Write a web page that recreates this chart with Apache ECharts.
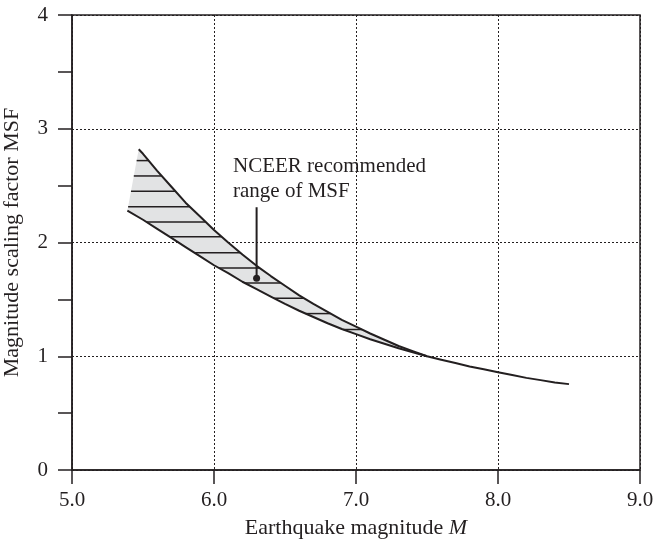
<!DOCTYPE html>
<html>
<head>
<meta charset="utf-8">
<script src="https://cdn.jsdelivr.net/npm/echarts@6/dist/echarts.min.js"></script>
<style>
html,body{margin:0;padding:0;background:#fff;}
#c{width:654px;height:545px;}
</style>
</head>
<body>
<div id="c"></div>
<script>
// ---- data ----
const upperM   = [5.47, 5.5, 5.6, 5.7, 5.8, 5.9, 6.0, 6.1, 6.2, 6.3, 6.4, 6.5, 6.6, 6.7, 6.8, 6.9, 7.0, 7.1, 7.2, 7.3, 7.4, 7.5];
const upperMSF = [2.82, 2.78, 2.63, 2.49, 2.35, 2.23, 2.11, 2.00, 1.895, 1.795, 1.705, 1.62, 1.535, 1.46, 1.39, 1.32, 1.26, 1.20, 1.145, 1.09, 1.045, 1.0];
const lowerM   = [5.39, 5.5, 5.6, 5.7, 5.8, 5.9, 6.0, 6.1, 6.2, 6.3, 6.4, 6.5, 6.6, 6.7, 6.8, 6.9, 7.0, 7.1, 7.2, 7.3, 7.4, 7.5, 7.6, 7.7, 7.8, 7.9, 8.0, 8.1, 8.2, 8.3, 8.4, 8.5];
const lowerMSF = [2.28, 2.20, 2.12, 2.04, 1.96, 1.88, 1.80, 1.73, 1.655, 1.59, 1.525, 1.46, 1.40, 1.345, 1.29, 1.24, 1.195, 1.15, 1.11, 1.07, 1.035, 1.0, 0.97, 0.94, 0.91, 0.885, 0.86, 0.835, 0.81, 0.79, 0.77, 0.755];
const hatchLevels = [2.72, 2.585, 2.45, 2.315, 2.18, 2.05, 1.91, 1.775, 1.645, 1.51, 1.375, 1.235];
const xTicks = [5.0, 6.0, 7.0, 8.0, 9.0];
const yTicks = [0, 1, 2, 3, 4];
const annotDot = [6.3, 1.685];
const annotTop = 2.31;
const annotText = ['NCEER recommended', 'range of MSF'];
const xTitle = 'Earthquake magnitude ';
const xTitleItalic = 'M';
const yTitle = 'Magnitude scaling factor MSF';
// ---------------------------------------

const INK = '#231f20';
const FONT = 'Liberation Serif';
const zip = (a, b) => a.map((v, i) => [v, b[i]]);

function renderBand(params, api) {
  const poly = [];
  for (let i = 0; i < upperM.length; i++) poly.push(api.coord([upperM[i], upperMSF[i]]));
  const endM = upperM[upperM.length - 1];
  const low = [];
  for (let i = 0; i < lowerM.length; i++) if (lowerM[i] <= endM + 1e-9) low.push(api.coord([lowerM[i], lowerMSF[i]]));
  for (let i = low.length - 1; i >= 0; i--) poly.push(low[i]);
  const children = [{
    type: 'polygon', shape: { points: poly },
    style: { fill: '#e2e3e4', stroke: null }
  }];
  hatchLevels.forEach(h => {
    const y = api.coord([5, h])[1];
    const xs = [];
    for (let i = 0; i < poly.length; i++) {
      const p = poly[i], q = poly[(i + 1) % poly.length];
      if ((p[1] - y) * (q[1] - y) <= 0 && p[1] !== q[1]) {
        xs.push(p[0] + (y - p[1]) * (q[0] - p[0]) / (q[1] - p[1]));
      }
    }
    if (xs.length >= 2) {
      children.push({
        type: 'line',
        shape: { x1: Math.min(...xs), y1: y, x2: Math.max(...xs), y2: y },
        style: { stroke: INK, lineWidth: 1.5 }
      });
    }
  });
  return { type: 'group', children };
}

function renderAnnot(params, api) {
  const d = api.coord(annotDot);
  const t = api.coord([annotDot[0], annotTop]);
  return {
    type: 'group', children: [
      { type: 'line', shape: { x1: t[0], y1: t[1], x2: d[0], y2: d[1] }, style: { stroke: INK, lineWidth: 2 } },
      { type: 'circle', shape: { cx: d[0], cy: d[1], r: 3.5 }, style: { fill: INK } }
    ]
  };
}

const chart = echarts.init(document.getElementById('c'), null, { renderer: 'canvas' });
chart.setOption({
  animation: false,
  backgroundColor: '#fff',
  textStyle: { fontFamily: FONT },
  grid: { left: 72, right: 14, top: 15, bottom: 75, show: true, borderColor: INK, borderWidth: 1.5, backgroundColor: 'transparent', containLabel: false, outerBoundsMode: 'none' },
  xAxis: {
    type: 'value', min: xTicks[0], max: xTicks[xTicks.length - 1], interval: 1,
    axisLine: { lineStyle: { color: INK, width: 1.5 } },
    axisTick: { length: 14, lineStyle: { color: INK, width: 1.5 } },
    axisLabel: { formatter: v => v.toFixed(1), fontSize: 21, color: INK, margin: 20, fontFamily: FONT },
    splitLine: { show: true, lineStyle: { color: INK, width: 1, type: [2, 2] } },
    name: xTitle + '{i|' + xTitleItalic + '}',
    nameLocation: 'middle', nameGap: 47,
    nameTextStyle: { fontSize: 22, color: INK, fontFamily: FONT, rich: { i: { fontStyle: 'italic', fontSize: 22, color: INK, fontFamily: FONT } } }
  },
  yAxis: {
    type: 'value', min: yTicks[0], max: yTicks[yTicks.length - 1], interval: 1,
    axisLine: { show: true, lineStyle: { color: INK, width: 1.5 } },
    axisTick: { show: true, length: 14, lineStyle: { color: INK, width: 1.5 } },
    minorTick: { show: true, splitNumber: 2, length: 14, lineStyle: { color: INK, width: 1.5 } },
    axisLabel: { fontSize: 21, color: INK, margin: 24, fontFamily: FONT },
    splitLine: { show: true, lineStyle: { color: INK, width: 1, type: [2, 2] } },
    name: yTitle, nameLocation: 'middle', nameGap: 49,
    nameTextStyle: { fontSize: 22, color: INK, fontFamily: FONT }
  },
  graphic: [{
    type: 'text', left: 233, top: 154,
    style: { text: annotText.join('\n'), font: '21px "Liberation Serif"', fill: INK, lineHeight: 25 }
  }],
  series: [
    { type: 'custom', renderItem: renderBand, data: [[5, 0]], z: 1, silent: true },
    { type: 'line', data: zip(upperM, upperMSF), symbol: 'none', smooth: false, lineStyle: { color: INK, width: 2 }, z: 3, silent: true },
    { type: 'line', data: zip(lowerM, lowerMSF), symbol: 'none', smooth: false, lineStyle: { color: INK, width: 2 }, z: 3, silent: true },
    { type: 'custom', renderItem: renderAnnot, data: [[5, 0]], z: 4, silent: true }
  ]
});
</script>
</body>
</html>
